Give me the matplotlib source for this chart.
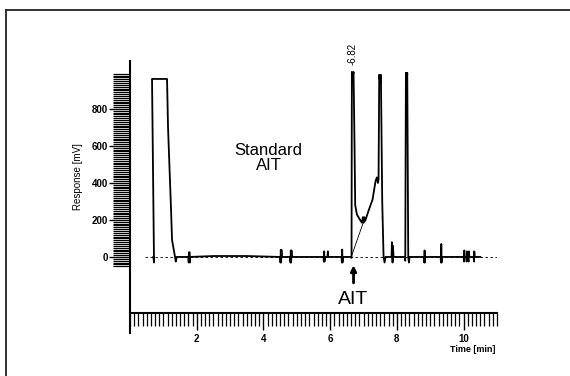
import matplotlib
matplotlib.use("Agg")
import matplotlib.pyplot as plt
from matplotlib.lines import Line2D
from matplotlib.ticker import FixedLocator, MultipleLocator

plt.rcParams["font.family"] = ["Liberation Sans", "DejaVu Sans"]

# chromatogram trace: time [min], response [mV]
time = [0.70, 0.72, 0.66, 1.11, 1.14, 1.23, 1.26, 1.35, 1.37, 1.40,
        1.75, 1.76, 1.765, 1.79, 1.795, 1.80, 2.5, 3.5, 4.50,
        4.51, 4.52, 4.53, 4.54, 4.55, 4.80, 4.81, 4.82, 4.83, 4.84, 4.85,
        5.80, 5.81, 5.82, 5.83, 5.84, 5.92, 5.93, 5.94, 6.34, 6.35, 6.36, 6.37, 6.38,
        6.62, 6.64, 6.65, 6.66, 6.70, 6.73, 6.75, 6.80, 6.88, 6.95, 6.98, 7.00, 7.02, 7.05,
        7.15, 7.27, 7.36, 7.40, 7.43, 7.45, 7.47, 7.50, 7.52, 7.56, 7.60, 7.63, 7.66,
        7.84, 7.85, 7.87, 7.88, 7.90, 8.24, 8.25, 8.27, 8.28, 8.30, 8.31, 8.34, 8.36, 8.38,
        8.81, 8.82, 8.83, 8.84, 8.85, 9.31, 9.32, 9.33, 9.34, 9.35,
        10.00, 10.01, 10.02, 10.03, 10.08, 10.09, 10.10, 10.11, 10.15, 10.16, 10.17,
        10.30, 10.31, 10.32, 10.33, 10.50]
response = [0, -30, 962, 962, 700, 255, 92, 0, -25, 0,
            0, -30, 25, 25, -30, 0, 5, 5, 0,
            -30, 38, -30, 38, 0, 0, -30, 35, -30, 35, 0,
            0, -25, 30, -25, 0, 0, 30, 0, 0, -30, 40, -30, 0,
            0, -5, 1000, 960, 1000, 600, 280, 230, 205, 185, 215, 185, 215, 195,
            250, 310, 410, 430, 400, 420, 984, 940, 984, 300, 0, -30, 0,
            0, 80, -30, 60, 0, 0, -20, 995, 960, 960, 995, 0, -30, 0,
            0, -30, 35, -30, 0, 0, -30, 70, -30, 0,
            0, -25, 35, 0, 0, -25, 30, 0, -25, 30, 0,
            0, -25, 30, 0, 0]

# drop line drawn under the AIT peak
drop_t = [6.63, 7.00]
drop_mv = [0, 190]

baseline_t = [0.45, 11.0]
baseline_mv = [0, 0]

y_ticks = [0, 200, 400, 600, 800]
x_ticks = [2, 4, 6, 8, 10]

fig = plt.figure(figsize=(5.7, 3.76), dpi=100)
ax = fig.add_axes([130 / 570, 1 - 333 / 376, 367 / 570, 272 / 376])

ax.plot(baseline_t, baseline_mv, color="black", lw=0.6, ls=(0, (3, 3)))
ax.plot(time, response, color="black", lw=1.3)
ax.plot(drop_t, drop_mv, color="black", lw=0.6)

ax.set_xlim(0, 11)
ax.set_ylim(-411, 1059)

for s in ["top", "right"]:
    ax.spines[s].set_visible(False)
ax.spines["bottom"].set_position(("data", -303))
ax.spines["left"].set_linewidth(1.5)
ax.spines["bottom"].set_linewidth(1.5)

ax.xaxis.set_major_locator(FixedLocator(x_ticks))
ax.xaxis.set_minor_locator(MultipleLocator(0.125))
ax.yaxis.set_major_locator(FixedLocator(y_ticks))
ax.yaxis.set_minor_locator(FixedLocator(list(range(-50, 1000, 10))))

ax.tick_params(axis="x", which="major", length=12, width=1.0, labelsize=7, pad=3)
ax.tick_params(axis="x", which="minor", length=9, width=0.9)
ax.tick_params(axis="y", which="major", length=15, width=1.0, labelsize=7, pad=1)
ax.tick_params(axis="y", which="minor", length=12, width=0.9)
for lab in ax.get_xticklabels() + ax.get_yticklabels():
    lab.set_fontweight("bold")

ax.text(4.15, 535, "Standard\nAIT", ha="center", va="center", fontsize=12,
        linespacing=1.05)
ax.text(6.67, 1035, "-6.82", rotation=90, ha="center", va="bottom", fontsize=7)
ax.annotate("", xy=(6.7, -30), xytext=(6.7, -155),
            arrowprops=dict(arrowstyle="-|>", color="black", lw=2, mutation_scale=8))
ax.text(6.7, -232, "AIT", ha="center", va="center", fontsize=14)

fig.text(78 / 570, 1 - 177 / 376, "Response [mV]", rotation=90,
         ha="center", va="center", fontsize=7)
fig.text(473 / 570, 1 - 350 / 376, "Time [min]", ha="center", va="center",
         fontsize=6.5, fontweight="bold")

# scanned page frame
fig.add_artist(Line2D([6 / 570, 1], [1 - 10 / 376, 1 - 10 / 376], color="#222222", lw=1.3))
fig.add_artist(Line2D([6 / 570, 6 / 570], [0, 1 - 10 / 376], color="#222222", lw=1.3))

fig.savefig("out.png", dpi=100)
